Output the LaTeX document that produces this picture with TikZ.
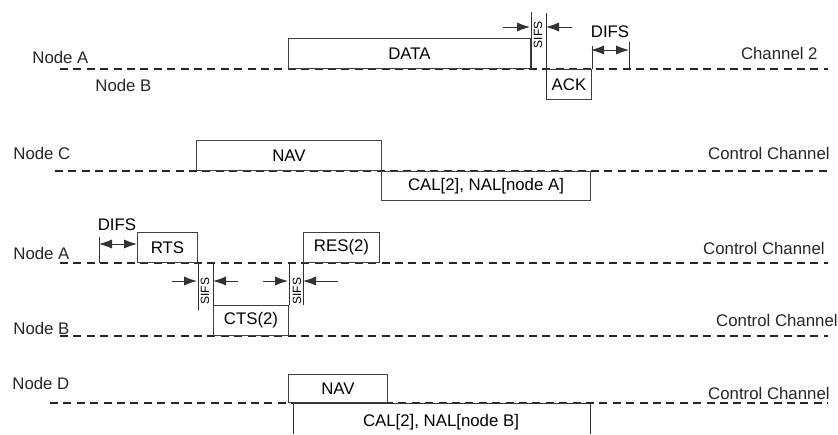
\documentclass[tikz,border=0pt]{standalone}
\usepackage{fontspec}
\setmainfont{Liberation Sans}
\usetikzlibrary{arrows.meta}
\begin{document}
\begin{tikzpicture}[x=0.5pt,y=-0.5pt,>={Latex[length=6.5pt,width=4.6pt]},line join=miter,
	font=\fontsize{8.4}{10}\selectfont,
	chan/.style={dash pattern=on 4pt off 2.7pt,line width=0.7pt,black!85},
	frame/.style={draw=black!75,line width=0.5pt,inner sep=0pt,minimum height=15pt},
	tick/.style={draw=black!80,line width=0.5pt},
	lbl/.style={inner sep=0pt,anchor=west,black!85},
	rlbl/.style={inner sep=0pt,anchor=east,black!85},
	sifs/.style={font=\fontsize{6}{6}\selectfont,rotate=90,inner sep=0pt}]
		\useasboundingbox (0,0) rectangle (838,434);
		% channels
		\draw[chan] (60,69)--(828,69);
		\draw[chan] (55,171)--(830,171);
		\draw[chan] (60,263)--(828,263);
		\draw[chan] (60,336)--(828,336);
		\draw[chan] (50,403)--(828,403);
		% labels
		\node[lbl] (na1) at (32,57) {Node A};
		\node[lbl] (nb1) at (95,85) {Node B};
		\node[rlbl] (ch2) at (818,53) {Channel 2};
		\node[lbl] (nc) at (13,153) {Node C};
		\node[rlbl] (cc1) at (830,153) {Control Channel};
		\node[lbl] (na2) at (13,253) {Node A};
		\node[rlbl] (cc2) at (825,248) {Control Channel};
		\node[lbl] (nb2) at (13,328) {Node B};
		\node[rlbl] (cc3) at (838,320) {Control Channel};
		\node[lbl] (nd) at (12,383) {Node D};
		\node[rlbl] (cc4) at (830,393) {Control Channel};
		% frames
		\node[frame,minimum width=121pt,anchor=south west] (data) at (288,69) {DATA};
		\node[frame,minimum width=22.5pt,anchor=north west] (ack) at (546,69) {ACK};
		\node[frame,minimum width=92.5pt,anchor=south west] (navc) at (196,171) {NAV};
		\node[frame,minimum width=104.5pt,minimum height=14.5pt,anchor=north west] (calc) at (381,171) {CAL[2], NAL[node A]};
		\node[frame,minimum width=30pt,anchor=south west] (rts) at (137,263) {RTS};
		\node[frame,minimum width=38pt,anchor=south west] (res) at (303,263) {RES(2)};
		\node[frame,minimum width=37.5pt,anchor=south west] (cts) at (213,336) {CTS(2)};
		\node[frame,minimum width=49.5pt,minimum height=14pt,anchor=south west] (navd) at (288,403) {NAV};
		\draw[tick] (293,434)--(293,403)--(590,403)--(590,434);
		\node[inner sep=0pt] (cald) at (441,422) {CAL[2], NAL[node B]};
		% SIFS / DIFS on channel 2
		\draw[tick] (data.south east)--++(0,-57);
		\draw[tick] (ack.south west)--++(0,-87);
		\draw[tick,->] (503,27)--(530,27);
		\draw[tick,->] (572,27)--(546,27);
		\node[sifs] (s1) at (538,35) {SIFS};
		\draw[tick] (ack.north east)--++(0,-23);
		\draw[tick] (629,42)--(629,68);
		\draw[tick,<->] (591,50)--(629,50);
		\node[inner sep=0pt] (d1) at (610,32) {DIFS};
		% SIFS / DIFS on control channel
		\draw[tick] (99,237)--(99,263);
		\draw[tick,<->] (99,244)--(rts.west |- 0,244);
		\node[inner sep=0pt] (d2) at (117,225) {DIFS};
		\draw[tick] (rts.south east)--++(0,47);
		\draw[tick] (cts.north west)--++(0,-43);
		\draw[tick,->] (172,281)--(197,281);
		\draw[tick,->] (238,281)--(213,281);
		\node[sifs] (s2) at (205,291) {SIFS};
		\draw[tick] (cts.north east)--++(0,-43);
		\draw[tick] (res.south west)--++(0,42);
		\draw[tick,->] (263,281)--(288,281);
		\draw[tick,->] (338,281)--(303,281);
		\node[sifs] (s3) at (297,291) {SIFS};
\end{tikzpicture}
\end{document}
